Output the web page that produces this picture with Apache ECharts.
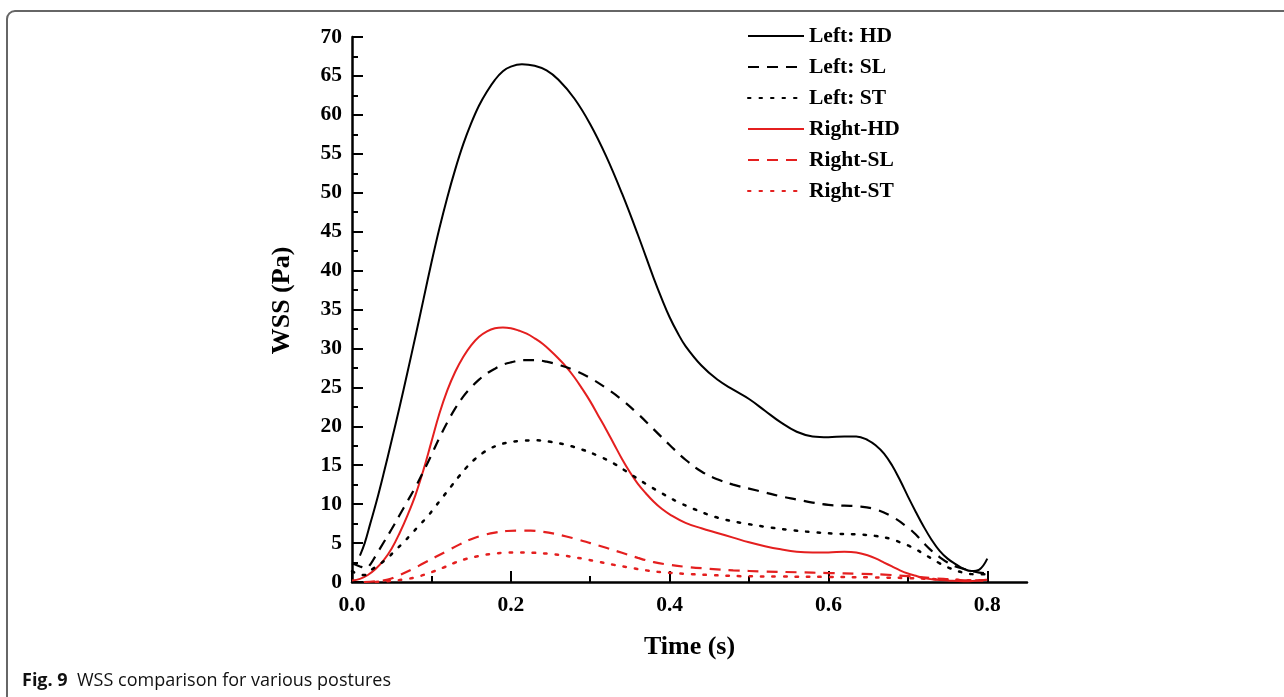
<!DOCTYPE html>
<html>
<head>
<meta charset="utf-8">
<script src="https://cdn.jsdelivr.net/npm/echarts@6/dist/echarts.min.js"></script>
<style>
html,body{margin:0;padding:0;background:#fff;}
#chart{width:1284px;height:697px;}
</style>
</head>
<body>
<div id="chart"></div>
<script>
// ---- data ----
const seriesNames = ['Left: HD', 'Left: SL', 'Left: ST', 'Right-HD', 'Right-SL', 'Right-ST'];

const leftHD_t = [0.010,0.016,0.023,0.031,0.040,0.050,0.060,0.070,0.080,0.090,0.100,0.110,0.120,0.130,0.140,0.150,0.160,0.170,0.180,0.190,0.200,0.214,0.230,0.245,0.260,0.280,0.300,0.320,0.340,0.360,0.380,0.390,0.400,0.410,0.420,0.440,0.460,0.480,0.500,0.520,0.540,0.560,0.580,0.600,0.620,0.635,0.650,0.660,0.670,0.680,0.690,0.700,0.710,0.720,0.730,0.740,0.750,0.760,0.770,0.780,0.790,0.800];
const leftHD_v = [3.4,5.0,7.5,10.4,14.0,18.2,22.5,27.0,31.6,36.3,41.0,45.4,49.4,53.0,56.2,58.9,61.2,63.0,64.5,65.6,66.2,66.5,66.3,65.7,64.5,62.1,58.8,54.7,49.9,44.6,39.0,36.4,34.0,32.0,30.3,27.8,26.0,24.7,23.5,22.0,20.5,19.3,18.7,18.6,18.7,18.7,18.2,17.5,16.5,15.0,13.1,11.0,9.0,7.1,5.4,4.0,3.0,2.3,1.7,1.4,1.6,3.0];

const leftSL_t = [0.000,0.010,0.018,0.024,0.030,0.040,0.050,0.060,0.070,0.080,0.090,0.100,0.110,0.120,0.130,0.140,0.150,0.160,0.170,0.180,0.190,0.200,0.215,0.230,0.245,0.260,0.280,0.300,0.320,0.340,0.360,0.380,0.400,0.420,0.440,0.460,0.480,0.500,0.520,0.540,0.560,0.580,0.600,0.620,0.640,0.660,0.680,0.700,0.710,0.720,0.730,0.740,0.750,0.760,0.770,0.780,0.790,0.800];
const leftSL_v = [2.4,2.0,1.8,2.4,3.4,5.1,6.8,8.6,10.4,12.2,14.2,16.3,18.5,20.5,22.3,23.8,25.0,26.0,26.8,27.4,27.9,28.2,28.5,28.5,28.3,27.9,27.2,26.2,24.9,23.4,21.6,19.6,17.6,15.7,14.2,13.2,12.5,12.0,11.5,11.0,10.6,10.2,9.9,9.8,9.7,9.3,8.4,7.0,6.1,5.0,4.0,3.2,2.5,2.0,1.7,1.4,1.2,1.1];

const leftST_t = [0.000,0.008,0.016,0.025,0.035,0.045,0.055,0.065,0.075,0.085,0.095,0.105,0.115,0.125,0.135,0.145,0.155,0.165,0.175,0.185,0.195,0.210,0.230,0.250,0.270,0.290,0.310,0.330,0.350,0.370,0.390,0.410,0.430,0.450,0.470,0.490,0.520,0.550,0.580,0.610,0.640,0.660,0.680,0.690,0.700,0.710,0.720,0.730,0.740,0.750,0.760,0.770,0.785,0.800];
const leftST_v = [1.4,1.0,0.9,1.6,2.3,3.1,4.1,5.1,6.2,7.3,8.4,9.7,11.0,12.3,13.6,14.8,15.8,16.6,17.2,17.6,17.9,18.1,18.2,18.0,17.6,17.0,16.2,15.2,13.9,12.6,11.4,10.3,9.4,8.6,8.0,7.6,7.1,6.7,6.4,6.2,6.1,5.9,5.5,5.1,4.7,4.2,3.6,3.0,2.4,1.9,1.5,1.2,1.0,1.0];

const rightHD_t = [0.000,0.010,0.020,0.030,0.040,0.050,0.060,0.070,0.080,0.090,0.100,0.110,0.120,0.130,0.140,0.150,0.160,0.170,0.180,0.190,0.200,0.210,0.220,0.230,0.240,0.250,0.260,0.270,0.280,0.290,0.300,0.310,0.320,0.330,0.340,0.350,0.360,0.370,0.380,0.390,0.400,0.420,0.440,0.460,0.480,0.500,0.520,0.540,0.560,0.580,0.600,0.620,0.635,0.650,0.660,0.670,0.680,0.690,0.700,0.710,0.720,0.735,0.750,0.770,0.790,0.800];
const rightHD_v = [0.2,0.4,0.9,1.7,2.8,4.3,6.3,8.6,11.2,14.4,18.0,21.6,24.6,27.0,28.9,30.4,31.5,32.2,32.6,32.7,32.6,32.3,31.9,31.3,30.6,29.7,28.7,27.6,26.3,24.8,23.2,21.4,19.6,17.7,15.8,14.1,12.6,11.4,10.3,9.4,8.7,7.6,6.9,6.3,5.7,5.1,4.6,4.2,3.9,3.8,3.8,3.9,3.8,3.4,3.0,2.5,2.0,1.5,1.1,0.8,0.5,0.3,0.2,0.1,0.2,0.3];

const rightSL_t = [0.015,0.030,0.045,0.060,0.075,0.090,0.105,0.120,0.135,0.150,0.165,0.180,0.195,0.210,0.225,0.240,0.255,0.270,0.285,0.300,0.320,0.340,0.360,0.380,0.400,0.420,0.450,0.480,0.520,0.560,0.600,0.640,0.670,0.700,0.730,0.760,0.780,0.800];
const rightSL_v = [0.0,0.1,0.3,0.9,1.6,2.4,3.2,4.0,4.8,5.5,6.0,6.35,6.55,6.6,6.6,6.45,6.2,5.85,5.45,5.0,4.4,3.75,3.1,2.55,2.2,1.95,1.7,1.5,1.35,1.25,1.15,1.05,0.95,0.75,0.5,0.3,0.2,0.3];

const rightST_t = [0.030,0.050,0.070,0.085,0.100,0.115,0.130,0.145,0.160,0.175,0.190,0.210,0.230,0.250,0.270,0.290,0.310,0.330,0.350,0.370,0.390,0.420,0.450,0.490,0.540,0.600,0.650,0.700,0.740,0.770,0.800];
const rightST_v = [0.0,0.15,0.4,0.75,1.25,1.85,2.5,3.0,3.35,3.6,3.75,3.8,3.75,3.6,3.35,3.0,2.6,2.2,1.85,1.5,1.25,1.05,0.9,0.75,0.7,0.65,0.6,0.5,0.35,0.25,0.2];

const xMajorTicks = [0, 0.2, 0.4, 0.6, 0.8];
const xMinorTicks = [0.1, 0.3, 0.5, 0.7];
const xLabels = ['0.0', '0.2', '0.4', '0.6', '0.8'];

// ---- chart ----
const zip = (t, v) => t.map((x, i) => [x, v[i]]);
const BLACK = '#000000', RED = '#e41f1f';
const SERIF = '"Liberation Serif", "Times New Roman", serif';
const SANS = '"Open Sans", "Noto Sans", sans-serif';
const styles = [
  {color: BLACK, type: 'solid', width: 2},
  {color: BLACK, type: [11, 8], width: 2.2},
  {color: BLACK, type: [2.5, 9], width: 2.5, cap: 'round'},
  {color: RED, type: 'solid', width: 2},
  {color: RED, type: [11, 8], width: 2.2},
  {color: RED, type: [2.5, 9], width: 2.5, cap: 'round'}
];
const datasets = [zip(leftHD_t, leftHD_v), zip(leftSL_t, leftSL_v), zip(leftST_t, leftST_v),
                  zip(rightHD_t, rightHD_v), zip(rightSL_t, rightSL_v), zip(rightST_t, rightST_v)];

function fmtX(v) {
  const i = xMajorTicks.findIndex(m => Math.abs(m - v) < 1e-6);
  return i >= 0 ? xLabels[i] : '';
}

const chart = echarts.init(document.getElementById('chart'), null, {renderer: 'canvas'});
chart.setOption({
  animation: false,
  backgroundColor: '#ffffff',
  grid: {left: 352, top: 37, right: 257, bottom: 115, containLabel: false},
  legend: {
    orient: 'vertical', left: 742, top: 20,
    itemWidth: 56, itemHeight: 14, itemGap: 9,
    itemStyle: {opacity: 0},
    textStyle: {fontFamily: SERIF, fontWeight: 'bold', fontSize: 21.5, color: '#000', padding: [0, 0, 0, 0]},
    data: seriesNames
  },
  xAxis: [{
    type: 'value', min: 0, max: 0.85,
    name: 'Time (s)', nameLocation: 'middle', nameGap: 52,
    nameTextStyle: {fontFamily: SERIF, fontWeight: 'bold', fontSize: 26, color: '#000'},
    axisLine: {show: true, lineStyle: {color: '#000', width: 2.5}},
    axisTick: {show: true, inside: true, length: 11, lineStyle: {color: '#000', width: 2}, customValues: xMajorTicks},
    axisLabel: {customValues: xMajorTicks, formatter: fmtX,
      fontFamily: SERIF, fontWeight: 'bold', fontSize: 21.5, color: '#000', margin: 12},
    splitLine: {show: false}
  }, {
    type: 'value', min: 0, max: 0.85, position: 'bottom',
    axisLine: {show: false},
    axisTick: {show: true, inside: true, length: 6, lineStyle: {color: '#000', width: 2}, customValues: xMinorTicks},
    axisLabel: {show: false},
    splitLine: {show: false}
  }],
  yAxis: {
    type: 'value', min: 0, max: 70, interval: 5,
    name: 'WSS (Pa)', nameLocation: 'middle', nameGap: 57,
    nameTextStyle: {fontFamily: SERIF, fontWeight: 'bold', fontSize: 26, color: '#000', padding: [0, 0, 0, 18]},
    axisLine: {show: true, lineStyle: {color: '#000', width: 2.5}},
    axisTick: {show: true, inside: true, length: 11, lineStyle: {color: '#000', width: 2}},
    minorTick: {show: true, splitNumber: 2, length: 6, lineStyle: {color: '#000', width: 2}},
    axisLabel: {fontFamily: SERIF, fontWeight: 'bold', fontSize: 21.5, color: '#000', margin: 10},
    splitLine: {show: false}
  },
  series: seriesNames.map((name, i) => ({
    name, type: 'line', xAxisIndex: 0, data: datasets[i],
    showSymbol: false, symbol: 'none', smooth: 0.4,
    lineStyle: styles[i], itemStyle: {color: styles[i].color},
    z: 10 - i
  })),
  graphic: [
    {type: 'rect', shape: {x: 7, y: 11, width: 1600, height: 900, r: 8},
     style: {stroke: '#666', lineWidth: 2, fill: 'transparent'}, silent: true, z: -1},
    {type: 'text', left: 22, top: 672,
     style: {rich: {b: {fontFamily: SANS, fontWeight: 'bold', fontSize: 18, fill: '#111'},
                    n: {fontFamily: SANS, fontSize: 18, fill: '#111'}},
             text: '{b|Fig. 9}{n|  WSS comparison for various postures}'}}
  ]
});
</script>
</body>
</html>
